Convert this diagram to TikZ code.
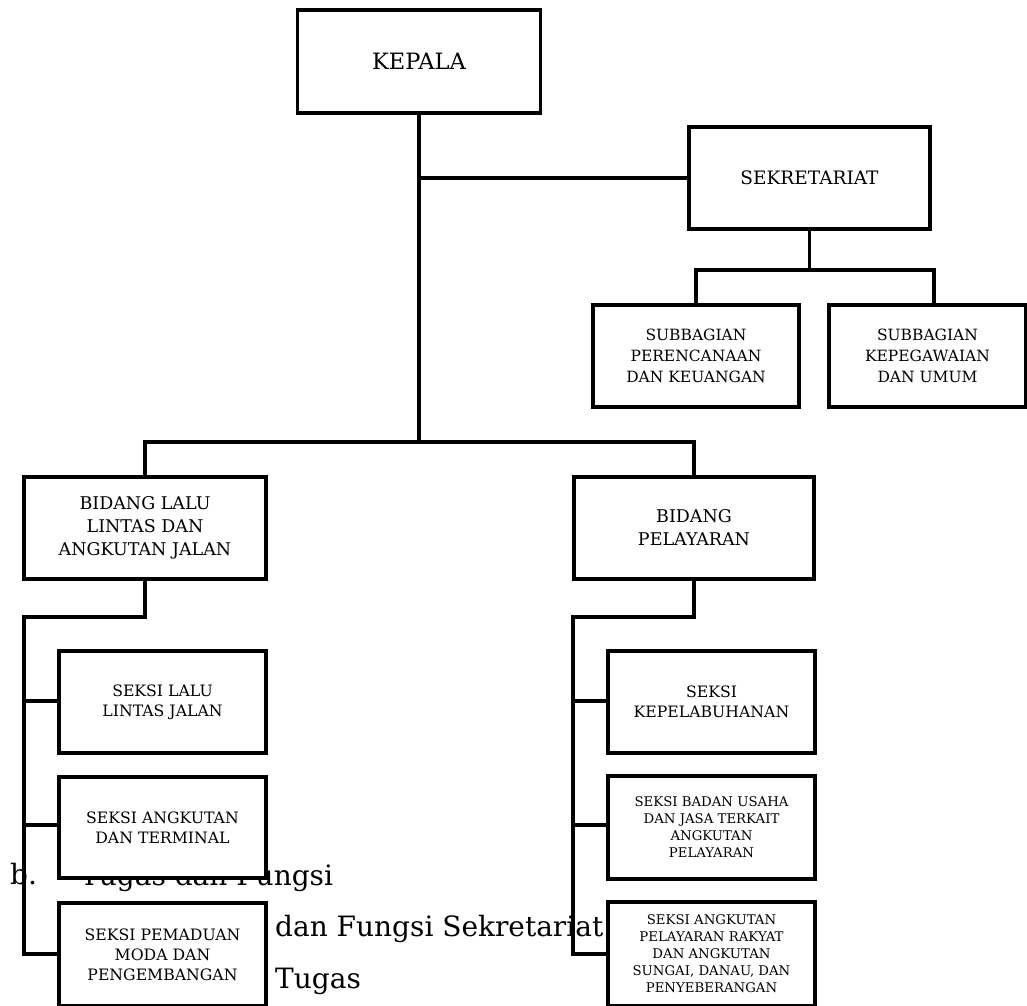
\documentclass[tikz,border=0pt]{standalone}
\usepackage{fontspec}
\setmainfont{DejaVu Serif}
\begin{document}
\begin{tikzpicture}[x=1pt,y=-1pt,
  unit/.style={draw, line width=3.2pt, fill=white, inner sep=0pt, align=center},
  link/.style={line width=3.2pt, line join=miter},
  bodytext/.style={anchor=base west, inner sep=0pt, font=\fontsize{28}{32}\selectfont},
  fbig/.style={font=\fontsize{22.5}{26}\selectfont},
  fmid/.style={font=\fontsize{18.5}{22}\selectfont},
  fbid/.style={font=\fontsize{17.5}{23}\selectfont},
  fsub/.style={font=\fontsize{15.5}{21}\selectfont},
  fsek/.style={font=\fontsize{15.7}{20}\selectfont},
  fsmall/.style={font=\fontsize{13.3}{17}\selectfont}]
\useasboundingbox (0,0) rectangle (1027,1005);

% running text of the page, lying underneath the chart boxes
\node[bodytext] (tb) at (10,884) {b.};
\node[bodytext] (tc) at (80,885) {Tugas dan Fungsi};
\node[bodytext] (td) at (275,936) {dan Fungsi Sekretariat};
\node[bodytext] (te) at (275,988) {Tugas};

% top level
\node[unit, fbig, minimum width=243, minimum height=103] (kepala) at (419,61.5) {KEPALA};
\node[unit, fmid, minimum width=241, minimum height=102] (sekr) at (809.5,178) {SEKRETARIAT};
\node[unit, fsub, minimum width=206, minimum height=102] (sub1) at (696,356)
  {SUBBAGIAN\\PERENCANAAN\\DAN KEUANGAN};
\node[unit, fsub, minimum width=197, minimum height=102] (sub2) at (927.5,356)
  {SUBBAGIAN\\KEPEGAWAIAN\\DAN UMUM};

% divisions
\node[unit, fbid, minimum width=242, minimum height=102] (bid1) at (145,528)
  {BIDANG LALU\\LINTAS DAN\\ANGKUTAN JALAN};
\node[unit, fbid, minimum width=240, minimum height=102] (bid2) at (694,528)
  {BIDANG\\PELAYARAN};

% sections under road traffic
\node[unit, fsek, minimum width=207, minimum height=102] (sl1) at (162.5,702)
  {SEKSI LALU\\LINTAS JALAN};
\node[unit, fsek, minimum width=207, minimum height=101] (sl2) at (162.5,827.5)
  {SEKSI ANGKUTAN\\DAN TERMINAL};
\node[unit, fsek, minimum width=207, minimum height=103] (sl3) at (162.5,954.5)
  {SEKSI PEMADUAN\\MODA DAN\\PENGEMBANGAN};

% sections under shipping
\node[unit, fsek, minimum width=207, minimum height=102] (sr1) at (711.5,702)
  {SEKSI\\KEPELABUHANAN};
\node[unit, fsmall, minimum width=207, minimum height=103] (sr2) at (711.5,827.5)
  {SEKSI BADAN USAHA\\DAN JASA TERKAIT\\ANGKUTAN\\PELAYARAN};
\node[unit, fsmall, minimum width=207, minimum height=104] (sr3) at (711.5,954)
  {SEKSI ANGKUTAN\\PELAYARAN RAKYAT\\DAN ANGKUTAN\\SUNGAI, DANAU, DAN\\PENYEBERANGAN};

% junction levels
\coordinate (bus) at (0,442);
\coordinate (lsp) at (0,617);
\coordinate (ssp) at (0,270);
\coordinate (lrail) at ([xshift=1.6pt]bid1.west);
\coordinate (rrail) at ([xshift=0.6pt]bid2.west);
\coordinate (lev1) at (0,701);
\coordinate (lev2) at (0,825);
\coordinate (lev3) at (0,954);

% head to the two divisions
\draw[link] (kepala.south) -- (kepala.south |- bus);
\draw[link] (kepala.south |- sekr.west) -- (sekr.west);
\draw[link] (bid1.north) -- (bid1.north |- bus) -- (bid2.north |- bus) -- (bid2.north);
% secretariat to its subdivisions
\draw[link] (sekr.south) -- (sekr.south |- ssp);
\draw[link] (sub1.north) -- (sub1.north |- ssp) -- ([xshift=6.5pt]sub2.north |- ssp) -- ([xshift=6.5pt]sub2.north);
% left branch rail
\draw[link] (bid1.south) -- (bid1.south |- lsp) -- (lrail |- lsp) -- (lrail |- lev3) -- (sl3.west |- lev3);
\draw[link] (lrail |- lev1) -- (sl1.west |- lev1);
\draw[link] (lrail |- lev2) -- (sl2.west |- lev2);
% right branch rail
\draw[link] (bid2.south) -- (bid2.south |- lsp) -- (rrail |- lsp) -- (rrail |- lev3) -- (sr3.west |- lev3);
\draw[link] (rrail |- lev1) -- (sr1.west |- lev1);
\draw[link] (rrail |- lev2) -- (sr2.west |- lev2);
\end{tikzpicture}
\end{document}
